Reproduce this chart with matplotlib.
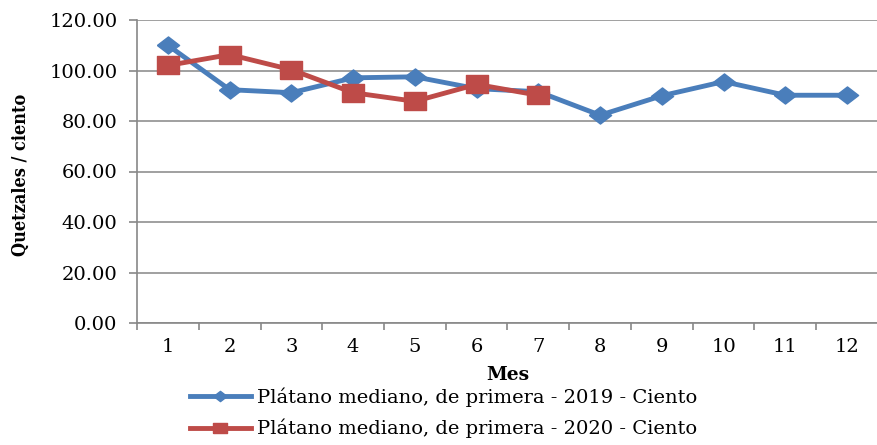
import matplotlib
matplotlib.use("Agg")
import matplotlib.pyplot as plt
from matplotlib.ticker import FixedLocator, FuncFormatter

months = [1, 2, 3, 4, 5, 6, 7, 8, 9, 10, 11, 12]
serie_2019 = [110.0, 92.4, 91.2, 97.1, 97.5, 92.8, 91.6, 82.3, 90.0, 95.6, 90.2, 90.2]
months_2020 = [1, 2, 3, 4, 5, 6, 7]
serie_2020 = [102.0, 106.3, 100.3, 91.2, 87.8, 94.5, 90.2]
label_2019 = "Plátano mediano, de primera - 2019 - Ciento"
label_2020 = "Plátano mediano, de primera - 2020 - Ciento"
yticks = [0, 20, 40, 60, 80, 100, 120]

plt.rcParams['font.family'] = ['DejaVu Serif']
fig = plt.figure(figsize=(8.78, 4.45), dpi=100)
ax = fig.add_axes([137/878, 1-323/445, 741/878, 303/445])

blue = '#4a7ebb'
red = '#be4b48'
diamond = [(-1, 0), (0, -0.77), (1, 0), (0, 0.77), (-1, 0)]
rect = [(-1, -0.77), (1, -0.77), (1, 0.77), (-1, 0.77), (-1, -0.77)]
ax.plot(months, serie_2019, color=blue, lw=3.5, marker=diamond, ms=16, mec=blue, mfc=blue,
        label=label_2019, zorder=3)
ax.plot(months_2020, serie_2020, color=red, lw=3.5, marker=rect, ms=16, mec=red, mfc=red,
        label=label_2020, zorder=4)

ax.set_xlim(0.5, 12.5)
ax.set_ylim(0, 120)
ax.yaxis.set_major_locator(FixedLocator(yticks))
ax.yaxis.set_major_formatter(FuncFormatter(lambda v, p: f"{v:.2f}"))
ax.set_xticks(months)
ax.set_xticks([m + 0.5 for m in months[:-1]] + [0.5], minor=True)
ax.tick_params(axis='x', which='major', length=0, pad=11, labelsize=14)
ax.tick_params(axis='x', which='minor', length=5, color='#888888', width=1.2)
ax.tick_params(axis='y', length=6, color='#888888', width=1.2, labelsize=14, pad=8)
ax.grid(axis='y', color='#999999', lw=1.3)
ax.set_axisbelow(True)
for s in ['top', 'right']:
    ax.spines[s].set_visible(False)
for s in ['left', 'bottom']:
    ax.spines[s].set_color('#888888')
    ax.spines[s].set_linewidth(1.2)

ax.set_xlabel('Mes', fontweight='bold', fontsize=13.5)
ax.xaxis.set_label_coords(0.5, (323-366)/303)
ax.set_ylabel('Quetzales / ciento', fontweight='bold', fontsize=13,
              family=['DejaVu Serif Condensed', 'DejaVu Serif'], fontstretch='condensed')
ax.yaxis.set_label_coords((30-137)/741, (323-175)/303)

leg = ax.legend(loc='upper left', bbox_to_anchor=(182/878, 1-380/445), bbox_transform=fig.transFigure,
                frameon=False, fontsize=14, handlelength=3.15, handletextpad=0.3, labelspacing=0.6,
                borderaxespad=0, markerscale=0.6)

fig.savefig('out.png', dpi=100)
